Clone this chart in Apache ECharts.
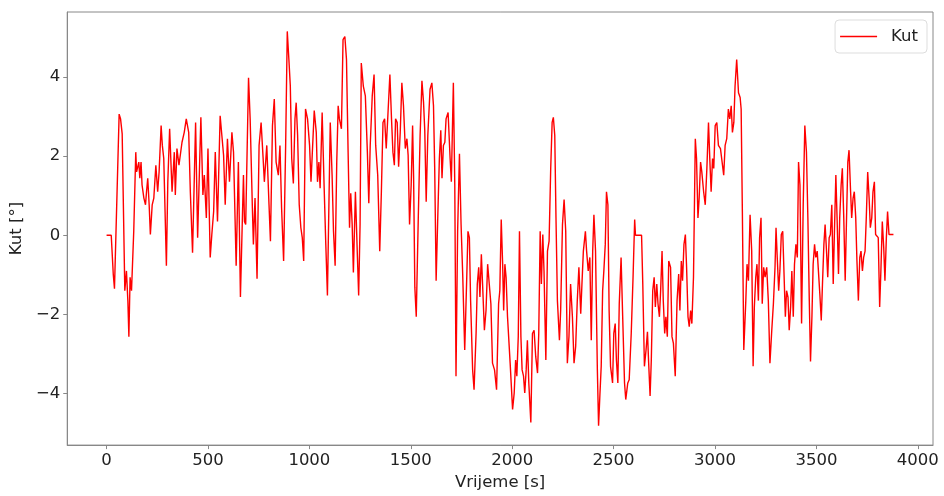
<!DOCTYPE html>
<html>
<head>
<meta charset="utf-8">
<script src="https://cdn.jsdelivr.net/npm/echarts@6/dist/echarts.min.js"></script>
<style>html,body{margin:0;padding:0;background:#fff;}#c{width:944px;height:496px;}</style>
</head>
<body>
<div id="c"></div>
<script>
const seriesName = 'Kut';
const xAxisName = 'Vrijeme [s]';
const yAxisName = 'Kut [°]';
const timeSec = [0,23,33,39,62,69,77,90,98,105,110,116,123,134,144,148,159,164,170,175,184,192,197,203,210,216,225,233,243,252,259,269,275,282,295,302,311,323,334,339,347,357,372,383,393,405,413,424,439,449,465,475,482,492,500,511,519,528,536,547,560,577,585,596,606,618,626,639,
650,660,675,680,686,700,708,719,724,732,742,752,762,772,778,790,801,808,818,827,836,847,855,863,873,883,891,899,906,913,921,929,935,942,950,958,965,972,981,991,1001,1008,1014,1024,1034,1040,1047,1053,1063,1073,1081,1089,1103,1112,1119,1127,1135,1142,1148,1158,1166,1175,1183,1191,1198,1204,1211,1217,1227,1237,1243,1250,1256,1266,1276,1286,1293,
1300,1310,1319,1327,1337,1347,1355,1363,1371,1379,1387,1397,1405,1412,1419,1425,1433,1440,1448,1456,1464,1473,1481,1487,1494,1502,1509,1514,1520,1527,1537,1546,1555,1563,1569,1576,1584,1595,1604,1612,1618,1625,1633,1641,1648,1654,1661,1668,1674,1684,1694,1700,1710,1717,1723,1731,1740,1748,1756,1766,1776,1782,1789,1795,1805,1812,1822,1828,1835,1841,1848,1854,1863,1871,1879,1887,1895,1903,1913,1923,1933,1939,1946,1953,
1958,1964,1970,1977,1990,2002,2010,2017,2023,2030,2036,2043,2049,2056,2062,2069,2075,2082,2092,2100,2108,2116,2125,2131,2138,2144,2151,2157,2166,2174,2182,2190,2197,2203,2210,2216,2223,2233,2239,2248,2256,2264,2272,2280,2288,2297,2305,2313,2321,2329,2338,2344,2351,2361,2367,2375,2383,2390,2397,2403,2411,2420,2426,2433,2439,2446,2452,2459,2465,2472,2478,2485,2495,2501,2508,2514,2521,2528,2537,2544,2554,2560,2570,2577,2587,2596,2604,2608,2638,
2644,2652,2660,2667,2673,2680,2686,2693,2700,2706,2713,2719,2726,2732,2739,2745,2752,2758,2765,2772,2781,2788,2795,2804,2813,2821,2827,2834,2840,2847,2854,2860,2867,2873,2880,2886,2894,2903,2909,2916,2922,2929,2935,2944,2952,2960,2968,2975,2981,2988,2994,3001,3009,3017,3027,3037,3043,3050,3058,3066,3073,3080,3086,3093,3099,3107,3116,3124,3129,3135,3142,3152,3158,3165,3173,3181,3188,3194,3201,3207,3214,3220,3227,3233,3240,3247,3255,3263,3271,
3280,3288,3296,3301,3307,3314,3320,3327,3334,3340,3347,3353,3360,3366,3373,3379,3386,3392,3399,3406,3412,3419,3427,3435,3443,3451,3458,3465,3471,3478,3484,3491,3497,3504,3510,3517,3524,3530,3537,3543,3550,3556,3563,3569,3576,3583,3589,3596,3602,3609,3615,3622,3628,3635,3642,3648,3655,3661,3668,3674,3681,3687,3694,3700,3707,3714,3720,3727,3733,3740,3746,3753,3760,3766,3773,3779,3786,3792,3799,3805,3812,3818,3825,3832,3838,3845,3851,3858,3880];
const kutDeg = [0,0,-0.98,-1.35,3.06,2.94,2.56,-1.40,-0.90,-1.65,-2.56,-1.06,-1.40,0.10,2.10,1.60,1.85,1.44,1.85,1.27,0.94,0.77,1.10,1.44,0.77,0.02,0.77,0.94,1.77,1.10,1.60,2.77,2.27,1.94,-0.77,1.35,2.69,1.10,2.10,1.02,2.19,1.77,2.35,2.60,2.94,2.60,1.10,-0.44,2.85,-0.06,2.98,1.02,1.52,0.44,2.19,-0.56,0.02,0.60,2.10,0.35,3.02,2.02,0.77,2.44,1.35,2.60,2.10,-0.77,
1.85,-1.56,1.52,0.35,0.27,3.98,2.94,0.69,-0.23,0.94,-1.10,2.27,2.85,1.94,1.35,2.27,0.77,-0.15,2.77,3.44,1.85,1.52,2.27,0.69,-0.65,2.27,5.15,4.44,3.77,1.94,1.31,2.94,3.35,2.52,0.77,0.19,-0.06,-0.65,3.19,2.94,2.27,1.35,2.02,3.15,2.60,1.35,1.85,1.19,3.10,1.19,-0.23,-1.52,2.85,1.52,0.10,-0.77,1.85,3.27,2.94,2.69,4.94,5.02,4.44,2.10,0.19,1.06,0.27,-0.94,1.10,-0.56,-1.52,0.27,4.35,3.77,3.52,2.10,0.81,
2.27,3.52,4.06,2.27,1.52,-0.40,1.10,2.85,2.94,2.19,3.02,4.06,2.94,2.10,1.77,2.94,2.85,1.73,2.60,3.85,3.27,2.19,2.44,2.02,0.27,1.27,2.77,1.44,-1.31,-2.06,0.44,2.52,3.90,3.35,2.65,0.85,2.52,3.69,3.85,3.27,1.69,-1.15,0.44,1.94,2.65,1.44,2.27,2.35,2.94,3.10,1.94,1.35,3.85,1.27,-3.56,0.10,2.06,0.27,-0.98,-2.90,-1.06,0.10,-0.06,-1.65,-3.40,-3.90,-2.48,-1.23,-0.81,-1.56,-0.48,-1.23,-2.40,-1.90,-0.73,-1.23,-1.73,-3.23,-3.40,-3.90,-1.73,-1.40,0.40,-0.73,
-1.90,-0.73,-1.06,-2.06,-3.23,-4.40,-3.98,-3.15,-3.56,-2.56,0.10,-2.56,-3.40,-3.56,-3.98,-3.40,-2.65,-3.73,-4.73,-2.48,-2.40,-3.06,-3.48,-2.48,0.10,-1.23,0.02,-0.90,-3.15,-0.40,-0.15,1.69,2.85,2.98,2.52,0.44,-1.65,-2.65,-1.90,0.27,0.90,0.10,-3.23,-2.56,-1.23,-2.06,-3.23,-2.81,-1.65,-0.81,-1.98,-1.23,-0.40,0.10,-0.40,-0.90,-0.56,-2.65,-0.40,0.52,-0.40,-3.40,-4.81,-3.98,-3.31,-1.40,-0.90,-0.23,1.10,0.77,-1.90,-3.31,-3.73,-2.48,-2.23,-3.15,-3.73,-1.73,-0.56,-1.90,-3.73,-4.15,-3.73,-3.65,-2.48,-1.06,0.40,0,0,
-1.23,-3.31,-2.90,-2.44,-3.23,-4.06,-3.15,-1.40,-1.06,-1.81,-1.23,-1.73,-2.06,-1.40,-0.40,-1.65,-2.48,-2.06,-2.56,-0.65,-0.81,-2.56,-2.73,-3.56,-1.65,-0.98,-1.90,-0.65,-1.15,-0.23,0.02,-0.81,-2.06,-2.31,-1.90,-2.23,-1.06,2.44,1.94,0.44,0.94,1.85,1.60,1.10,0.77,1.69,2.85,1.85,1.10,1.94,1.69,2.77,2.85,2.27,2.19,1.77,1.52,2.27,2.44,3.19,2.94,3.27,2.60,2.85,3.77,4.44,3.60,3.48,3.19,0.60,-2.90,-1.65,-0.73,-1.15,0.52,-0.40,-3.31,-1.81,-1.06,-0.73,-1.65,-0.06,0.44,-1.73,-0.81,-1.06,-0.81,-1.65,-3.23,
-2.40,-1.73,-0.81,0.19,-0.56,-1.40,-0.90,0.02,0.10,-0.90,-2.06,-1.40,-1.56,-2.40,-1.81,-0.90,-2.06,-0.73,-0.23,-0.56,1.85,1.27,-2.23,0.77,2.77,2.10,0.44,-1.65,-3.19,-2.06,-0.73,-0.23,-0.56,-0.40,-0.90,-1.48,-2.15,-1.23,-0.23,0.27,-0.40,-1.06,-0.06,0.02,0.77,-1.23,0.10,1.52,0.44,-0.98,0.44,1.27,1.69,0.44,-1.15,0.27,1.85,2.15,1.19,0.44,0.94,1.10,0.44,-0.65,-1.65,-0.56,-0.40,-0.90,-0.56,-0.40,0.44,1.60,0.94,0.19,0.44,1.10,1.35,0.02,0.02,-0.06,-1.81,-0.90,0.35,-0.31,-1.15,-0.06,0.60,0.02,0.02];

const data = timeSec.map((t, i) => [t, kutDeg[i]]);
const chart = echarts.init(document.getElementById('c'), null, {renderer: 'canvas'});
const font = 'DejaVu Sans';
const axisCol = '#888';
const txtCol = '#222';
chart.setOption({
  animation: false,
  backgroundColor: '#fff',
  grid: {left: 64, right: 11, top: 12, bottom: 46, show: true, borderColor: axisCol, borderWidth: 1, containLabel: false},
  legend: {
    right: 17, top: 20, orient: 'vertical',
    data: [seriesName],
    icon: 'rect', itemWidth: 37, itemHeight: 1.5,
    borderColor: '#ddd', borderWidth: 1, borderRadius: 4,
    padding: [8, 9, 8, 5], backgroundColor: '#fff',
    textStyle: {fontFamily: font, fontSize: 16.5, color: txtCol, padding: [0, 0, 0, 9]}
  },
  xAxis: {
    type: 'value', min: -194, max: 4075, splitNumber: 8,
    name: xAxisName, nameLocation: 'middle', nameGap: 24,
    nameTextStyle: {fontFamily: font, fontSize: 16.5, color: txtCol},
    axisLine: {show: true, onZero: false, lineStyle: {color: axisCol}},
    axisTick: {show: true, length: 4, lineStyle: {color: axisCol}},
    axisLabel: {fontFamily: font, fontSize: 16.5, color: txtCol, margin: 7, showMinLabel: false, showMaxLabel: false,
      formatter: v => String(v)},
    splitLine: {show: false}
  },
  yAxis: {
    type: 'value', min: -5.3, max: 5.64, splitNumber: 5,
    name: yAxisName, nameLocation: 'middle', nameGap: 36, nameRotate: 90,
    nameTextStyle: {fontFamily: font, fontSize: 16.5, color: txtCol},
    axisLine: {show: true, onZero: false, lineStyle: {color: axisCol}},
    axisTick: {show: true, length: 4, lineStyle: {color: axisCol}},
    axisLabel: {fontFamily: font, fontSize: 16.5, color: txtCol, margin: 7, showMinLabel: false, showMaxLabel: false,
      formatter: v => (v < 0 ? '\u2212' + Math.abs(v) : String(v))},
    splitLine: {show: false}
  },
  series: [{
    name: seriesName, type: 'line', data: data,
    showSymbol: false, symbol: 'none',
    lineStyle: {color: '#ff0000', width: 1.4},
    itemStyle: {color: '#ff0000'}
  }]
});
</script>
</body>
</html>
